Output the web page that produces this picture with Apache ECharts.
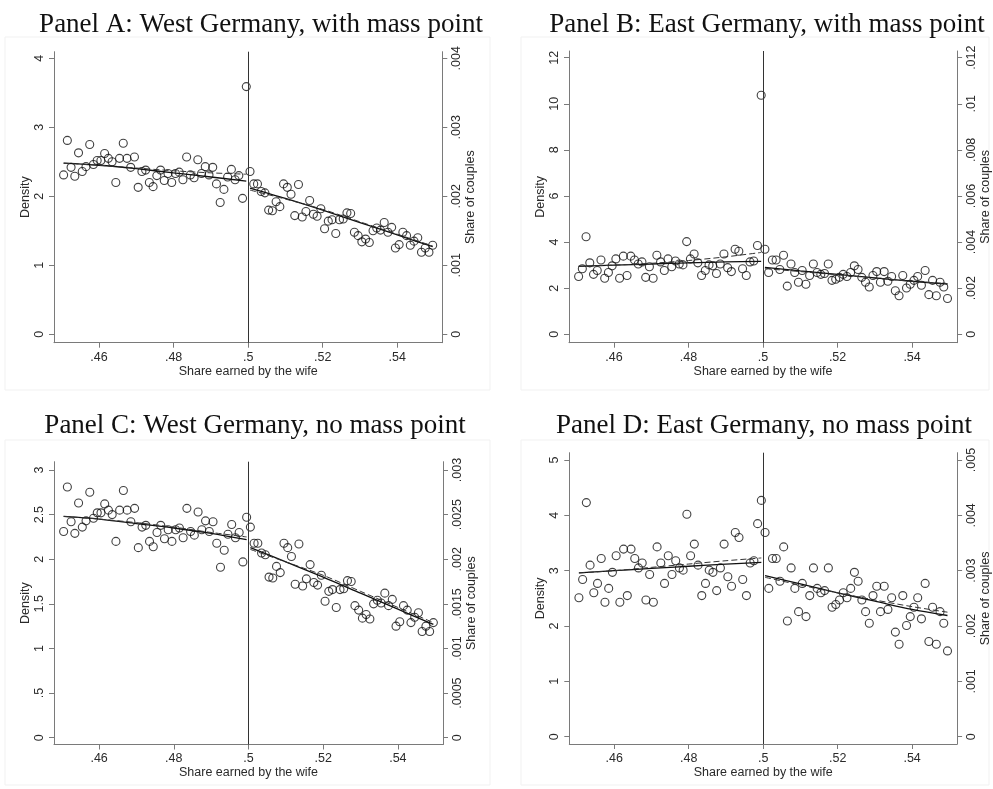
<!DOCTYPE html>
<html>
<head>
<meta charset="utf-8">
<script src="https://cdn.jsdelivr.net/npm/echarts@6/dist/echarts.min.js"></script>
<style>
html,body{margin:0;padding:0;background:#fff;}
#chart{width:993px;height:789px;}
</style>
</head>
<body>
<div id="chart"></div>
<script>
// ---------------- DATA ----------------
const binCenters = [
0.4505,0.4515,0.4525,0.4535,0.4545,0.4555,0.4565,0.4575,0.4585,0.4595,
0.4605,0.4615,0.4625,0.4635,0.4645,0.4655,0.4665,0.4675,0.4685,0.4695,
0.4705,0.4715,0.4725,0.4735,0.4745,0.4755,0.4765,0.4775,0.4785,0.4795,
0.4805,0.4815,0.4825,0.4835,0.4845,0.4855,0.4865,0.4875,0.4885,0.4895,
0.4905,0.4915,0.4925,0.4935,0.4945,0.4955,0.4965,0.4975,0.4985,0.4995,
0.5005,0.5015,0.5025,0.5035,0.5045,0.5055,0.5065,0.5075,0.5085,0.5095,
0.5105,0.5115,0.5125,0.5135,0.5145,0.5155,0.5165,0.5175,0.5185,0.5195,
0.5205,0.5215,0.5225,0.5235,0.5245,0.5255,0.5265,0.5275,0.5285,0.5295,
0.5305,0.5315,0.5325,0.5335,0.5345,0.5355,0.5365,0.5375,0.5385,0.5395,
0.5405,0.5415,0.5425,0.5435,0.5445,0.5455,0.5465,0.5475,0.5485,0.5495];

const densityWestMass = [
2.31,2.81,2.42,2.29,2.63,2.36,2.43,2.75,2.46,2.52,
2.52,2.62,2.55,2.50,2.20,2.55,2.77,2.55,2.42,2.57,
2.13,2.36,2.38,2.20,2.14,2.30,2.38,2.23,2.33,2.20,
2.33,2.35,2.24,2.57,2.31,2.27,2.53,2.33,2.43,2.31,
2.42,2.18,1.91,2.10,2.28,2.39,2.24,2.30,1.97,3.59,
2.36,2.18,2.18,2.07,2.05,1.80,1.79,1.92,1.85,2.18,
2.13,2.03,1.72,2.17,1.70,1.78,1.94,1.74,1.71,1.82,
1.53,1.64,1.66,1.46,1.66,1.67,1.76,1.75,1.48,1.43,
1.34,1.38,1.33,1.50,1.54,1.51,1.62,1.48,1.55,1.25,
1.30,1.48,1.43,1.29,1.35,1.40,1.19,1.25,1.19,1.29];

const densityWestNoMass = [
2.31,2.81,2.42,2.29,2.63,2.36,2.43,2.75,2.46,2.52,
2.52,2.62,2.55,2.50,2.20,2.55,2.77,2.55,2.42,2.57,
2.13,2.36,2.38,2.20,2.14,2.30,2.38,2.23,2.33,2.20,
2.33,2.35,2.24,2.57,2.31,2.27,2.53,2.33,2.43,2.31,
2.42,2.18,1.91,2.10,2.28,2.39,2.24,2.30,1.97,2.47,
2.36,2.18,2.18,2.07,2.05,1.80,1.79,1.92,1.85,2.18,
2.13,2.03,1.72,2.17,1.70,1.78,1.94,1.74,1.71,1.82,
1.53,1.64,1.66,1.46,1.66,1.67,1.76,1.75,1.48,1.43,
1.34,1.38,1.33,1.50,1.54,1.51,1.62,1.48,1.55,1.25,
1.30,1.48,1.43,1.29,1.35,1.40,1.19,1.25,1.19,1.29];

const densityEastMass = [
2.51,2.84,4.23,3.10,2.60,2.77,3.22,2.43,2.68,2.97,
3.27,2.43,3.39,2.55,3.39,3.22,3.05,3.14,2.47,2.93,
2.43,3.43,3.14,2.77,3.27,2.93,3.18,3.05,3.01,4.02,
3.27,3.48,3.10,2.55,2.77,3.01,2.97,2.64,3.05,3.48,
2.89,2.72,3.69,3.60,2.84,2.55,3.14,3.18,3.85,10.37,
3.69,2.68,3.22,3.22,2.81,3.43,2.09,3.05,2.68,2.26,
2.77,2.17,2.55,3.05,2.68,2.60,2.64,3.05,2.34,2.39,
2.47,2.60,2.51,2.68,2.97,2.81,2.47,2.26,2.05,2.55,
2.72,2.26,2.72,2.30,2.51,1.89,1.67,2.55,2.01,2.17,
2.34,2.51,2.13,2.77,1.72,2.34,1.67,2.26,2.05,1.55];

const densityEastNoMass = [
2.51,2.84,4.23,3.10,2.60,2.77,3.22,2.43,2.68,2.97,
3.27,2.43,3.39,2.55,3.39,3.22,3.05,3.14,2.47,2.93,
2.43,3.43,3.14,2.77,3.27,2.93,3.18,3.05,3.01,4.02,
3.27,3.48,3.10,2.55,2.77,3.01,2.97,2.64,3.05,3.48,
2.89,2.72,3.69,3.60,2.84,2.55,3.14,3.18,3.85,4.27,
3.69,2.68,3.22,3.22,2.81,3.43,2.09,3.05,2.68,2.26,
2.77,2.17,2.55,3.05,2.68,2.60,2.64,3.05,2.34,2.39,
2.47,2.60,2.51,2.68,2.97,2.81,2.47,2.26,2.05,2.55,
2.72,2.26,2.72,2.30,2.51,1.89,1.67,2.55,2.01,2.17,
2.34,2.51,2.13,2.77,1.72,2.34,1.67,2.26,2.05,1.55];

// fitted curves (read at these x positions)
const fitLeftX  = [0.4505, 0.46, 0.47, 0.48, 0.49, 0.4995];
const fitRightX = [0.5005, 0.51, 0.52, 0.53, 0.54, 0.5495];

const fitA_leftSolid  = [2.48, 2.45, 2.40, 2.34, 2.28, 2.22];
const fitA_leftDash   = [2.48, 2.45, 2.41, 2.37, 2.34, 2.32];
const fitA_rightSolid = [2.12, 1.97, 1.80, 1.62, 1.44, 1.27];
const fitA_rightDash  = [2.09, 1.96, 1.81, 1.63, 1.45, 1.28];

const fitB_leftSolid  = [2.95, 3.00, 3.05, 3.10, 3.14, 3.16];
const fitB_leftDash   = [2.95, 3.00, 3.08, 3.20, 3.36, 3.55];
const fitB_rightSolid = [2.90, 2.75, 2.60, 2.45, 2.30, 2.18];
const fitB_rightDash  = [2.85, 2.72, 2.58, 2.44, 2.30, 2.20];

const fitC_leftSolid  = [2.48, 2.45, 2.40, 2.35, 2.29, 2.22];
const fitC_leftDash   = [2.48, 2.45, 2.41, 2.36, 2.30, 2.25];
const fitC_rightSolid = [2.13, 1.97, 1.80, 1.62, 1.44, 1.27];
const fitC_rightDash  = [2.11, 1.97, 1.82, 1.64, 1.46, 1.29];

const fitD_leftSolid  = [2.96, 3.00, 3.04, 3.08, 3.12, 3.15];
const fitD_leftDash   = [2.96, 3.00, 3.06, 3.12, 3.18, 3.23];
const fitD_rightSolid = [2.91, 2.76, 2.60, 2.45, 2.30, 2.19];
const fitD_rightDash  = [2.88, 2.74, 2.60, 2.47, 2.35, 2.25];

// tick labels
const xTicks = [0.46, 0.48, 0.5, 0.52, 0.54];
const densityTicksA = [0, 1, 2, 3, 4];
const shareTicksA   = [0, 0.001, 0.002, 0.003, 0.004];
const densityTicksB = [0, 2, 4, 6, 8, 10, 12];
const shareTicksB   = [0, 0.002, 0.004, 0.006, 0.008, 0.01, 0.012];
const densityTicksC = [0, 0.5, 1, 1.5, 2, 2.5, 3];
const shareTicksC   = [0, 0.0005, 0.001, 0.0015, 0.002, 0.0025, 0.003];
const densityTicksD = [0, 1, 2, 3, 4, 5];
const shareTicksD   = [0, 0.001, 0.002, 0.003, 0.004, 0.005];

const titles = [
  "Panel A: West Germany, with mass point",
  "Panel B: East Germany, with mass point",
  "Panel C: West Germany, no mass point",
  "Panel D: East Germany, no mass point"
];

// ---------------- LAYOUT ----------------
const panels = [
  {title: titles[0], tx: 256, ty: 6, grid: {left: 54, top: 51.7, width: 388.3, height: 291},
   yMin: -0.122, yMax: 4.096, dTicks: densityTicksA, sTicks: shareTicksA, dens: densityWestMass,
   fits: [fitA_leftSolid, fitA_rightSolid, fitA_leftDash, fitA_rightDash]},
  {title: titles[1], tx: 762, ty: 6, grid: {left: 569, top: 51, width: 389, height: 291.7},
   yMin: -0.365, yMax: 12.29, dTicks: densityTicksB, sTicks: shareTicksB, dens: densityEastMass,
   fits: [fitB_leftSolid, fitB_rightSolid, fitB_leftDash, fitB_rightDash]},
  {title: titles[2], tx: 250, ty: 407, grid: {left: 54, top: 461.7, width: 389, height: 282.8},
   yMin: -0.076, yMax: 3.093, dTicks: densityTicksC, sTicks: shareTicksC, dens: densityWestNoMass,
   fits: [fitC_leftSolid, fitC_rightSolid, fitC_leftDash, fitC_rightDash]},
  {title: titles[3], tx: 759, ty: 407, grid: {left: 569.3, top: 452.7, width: 388, height: 291.3},
   yMin: -0.132, yMax: 5.132, dTicks: densityTicksD, sTicks: shareTicksD, dens: densityEastNoMass,
   fits: [fitD_leftSolid, fitD_rightSolid, fitD_leftDash, fitD_rightDash]}
];

const SANS = "'Liberation Sans', Arial, sans-serif";
const SERIF = "'Liberation Serif', 'Times New Roman', serif";
const AXIS_COLOR = '#7a7a7a';
const TEXT_COLOR = '#2a2a2a';
const fmt = v => String(v).replace(/^0\./, '.').replace(/^-0\./, '-.');

const option = {
  animation: false,
  backgroundColor: '#fff',
  title: [], grid: [], xAxis: [], yAxis: [], series: [],
  graphic: [
    {type: 'rect', shape: {x: 5, y: 37, width: 485, height: 353}, style: {fill: 'none', stroke: '#f1f1f1', lineWidth: 1}, silent: true},
    {type: 'rect', shape: {x: 521, y: 37, width: 468, height: 353}, style: {fill: 'none', stroke: '#f1f1f1', lineWidth: 1}, silent: true},
    {type: 'rect', shape: {x: 5, y: 440, width: 485, height: 345}, style: {fill: 'none', stroke: '#f1f1f1', lineWidth: 1}, silent: true},
    {type: 'rect', shape: {x: 521, y: 440, width: 468, height: 345}, style: {fill: 'none', stroke: '#f1f1f1', lineWidth: 1}, silent: true}
  ]
};

panels.forEach((p, i) => {
  option.title.push({
    text: p.title, left: p.tx, top: p.ty, textAlign: 'center',
    textStyle: {fontFamily: SERIF, fontSize: 27, fontWeight: 'normal', color: '#111'}
  });
  option.grid.push(Object.assign({containLabel: false}, p.grid));
  option.xAxis.push({
    type: 'value', gridIndex: i, min: 0.44792, max: 0.55208,
    name: 'Share earned by the wife', nameLocation: 'middle', nameGap: 20,
    nameTextStyle: {fontFamily: SANS, fontSize: 12.5, color: TEXT_COLOR},
    axisLine: {show: true, onZero: false, lineStyle: {color: AXIS_COLOR, width: 1}},
    axisTick: {show: true, customValues: xTicks, length: 5, lineStyle: {color: AXIS_COLOR}},
    axisLabel: {show: true, customValues: xTicks, formatter: fmt, margin: 8,
      fontFamily: SANS, fontSize: 12.5, color: TEXT_COLOR},
    splitLine: {show: false}
  });
  option.yAxis.push({
    type: 'value', gridIndex: i, position: 'left', min: p.yMin, max: p.yMax,
    name: 'Density', nameLocation: 'middle', nameRotate: 90, nameGap: 21,
    nameTextStyle: {fontFamily: SANS, fontSize: 12.5, color: TEXT_COLOR},
    axisLine: {show: true, onZero: false, lineStyle: {color: AXIS_COLOR, width: 1}},
    axisTick: {show: true, customValues: p.dTicks, length: 5, lineStyle: {color: AXIS_COLOR}},
    axisLabel: {show: true, customValues: p.dTicks, formatter: fmt, rotate: 90, margin: 8,
      fontFamily: SANS, fontSize: 12.5, color: TEXT_COLOR},
    splitLine: {show: false}
  });
  option.yAxis.push({
    type: 'value', gridIndex: i, position: 'right', min: p.yMin * 0.001, max: p.yMax * 0.001,
    name: 'Share of couples', nameLocation: 'middle', nameRotate: 90, nameGap: 21,
    nameTextStyle: {fontFamily: SANS, fontSize: 12.5, color: TEXT_COLOR},
    axisLine: {show: true, onZero: false, lineStyle: {color: AXIS_COLOR, width: 1}},
    axisTick: {show: true, customValues: p.sTicks, length: 5, lineStyle: {color: AXIS_COLOR}},
    axisLabel: {show: true, customValues: p.sTicks, formatter: fmt, rotate: 90, margin: 8,
      fontFamily: SANS, fontSize: 12.5, color: TEXT_COLOR},
    splitLine: {show: false}
  });
  const yIdx = i * 2;
  option.series.push({
    type: 'scatter', xAxisIndex: i, yAxisIndex: yIdx,
    data: binCenters.map((x, k) => [x, p.dens[k]]),
    symbol: 'circle', symbolSize: 8,
    itemStyle: {color: 'rgba(255,255,255,0)', borderColor: '#111', borderWidth: 1.1},
    markLine: {silent: true, symbol: 'none', label: {show: false},
      lineStyle: {color: '#333', width: 1, type: 'solid'},
      data: [{xAxis: 0.5}]},
    z: 2
  });
  const xs = [fitLeftX, fitRightX, fitLeftX, fitRightX];
  p.fits.forEach((vals, j) => {
    const dashed = j >= 2;
    option.series.push({
      type: 'line', xAxisIndex: i, yAxisIndex: yIdx,
      data: xs[j].map((x, k) => [x, vals[k]]),
      symbol: 'none', smooth: 0.3,
      lineStyle: dashed ? {color: '#333', width: 1, type: [6, 3]} : {color: '#111', width: 1.3, type: 'solid'},
      z: 3
    });
  });
});

const chart = echarts.init(document.getElementById('chart'), null, {renderer: 'canvas'});
chart.setOption(option);
</script>
</body>
</html>
